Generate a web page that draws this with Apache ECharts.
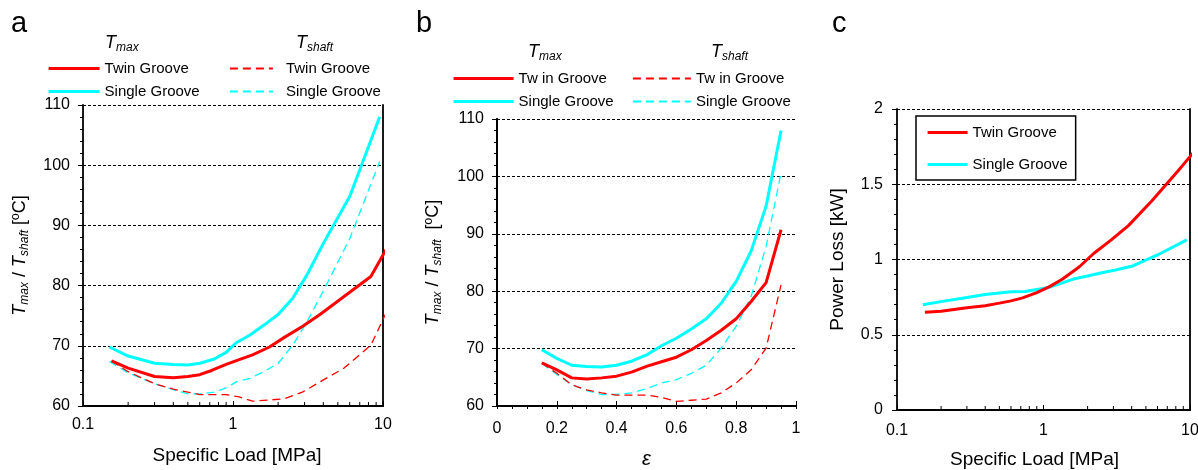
<!DOCTYPE html>
<html><head><meta charset="utf-8">
<script src="https://cdn.jsdelivr.net/npm/echarts@6/dist/echarts.min.js"></script>
<style>html,body{margin:0;padding:0;background:#fff}#c{width:1198px;height:470px}</style>
</head><body><div id="c"></div>
<script>
// ---- data ----
const epsilon = [0.15,0.2,0.25,0.3,0.35,0.4,0.45,0.5,0.55,0.6,0.65,0.7,0.75,0.8,0.85,0.9,0.95];
const twinLoad = [0.155,0.2,0.3,0.4,0.5,0.6,0.72,0.9,1.1,1.35,1.75,2.2,2.9,3.8,5.5,8.3,13.4];
const singleLoad = [0.15,0.2,0.3,0.4,0.5,0.6,0.75,0.9,1.05,1.3,1.6,2,2.5,3.1,4,6,9.5];
const twinTmax = [67.5,66.3,64.9,64.7,64.9,65.2,65.9,66.9,67.7,68.5,69.8,71.4,73.2,75.2,78.2,81.5,90.7];
const singleTmax = [69.8,68.3,67.1,66.9,66.8,67.1,67.8,68.9,70.5,71.8,73.4,75.2,77.9,81.7,87,94.8,108];
const twinTshaft = [67.5,65.7,63.7,62.8,62.3,61.9,61.9,61.9,61.5,60.8,61.0,61.2,62.3,64.0,66.3,70.1,81.1];
const singleTshaft = [67.4,65.5,63.7,62.7,62.0,62.0,62.3,63.0,64.0,64.6,65.7,67.1,70.1,73.9,79.1,87.8,100.6];
const twinPower = [0.65,0.656,0.68,0.693,0.71,0.725,0.745,0.78,0.82,0.87,0.95,1.04,1.13,1.225,1.39,1.59,1.83];
const singlePower = [0.70,0.72,0.748,0.768,0.778,0.786,0.787,0.80,0.81,0.84,0.87,0.89,0.912,0.93,0.955,1.03,1.13];
const logMinorTicks = [0.2,0.3,0.4,0.5,0.6,0.7,0.8,0.9,2,3,4,5,6,7,8,9];
const legendLabels = {
  a_tw_max:'Twin Groove', a_sg_max:'Single Groove', a_tw_sh:'Twin Groove', a_sg_sh:'Single Groove',
  b_tw_max:'Tw in Groove', b_sg_max:'Single Groove', b_tw_sh:'Tw in Groove', b_sg_sh:'Single Groove',
  c_tw:'Twin Groove', c_sg:'Single Groove'
};

const RED = '#ff0000', CYAN = '#00ffff';
const FONT = 'Liberation Sans, Arial, sans-serif';
const chart = echarts.init(document.getElementById('c'), null, {renderer:'canvas'});

function zip(xs, ys){ return xs.map((x,i)=>[x, ys[i]]); }
function line(name, xs, ys, color, dashed, gi){
  return {
    name, type:'line', xAxisIndex:gi, yAxisIndex:gi, data: zip(xs, ys),
    symbol:'none', showSymbol:false, smooth:false, clip:true, animation:false,
    lineStyle:{color, width: dashed?1.3:3, type: dashed?[8,5]:'solid'},
    itemStyle:{color}
  };
}
function minorTickSeries(gi, ymin){
  return {
    type:'custom', xAxisIndex:gi, yAxisIndex:gi, silent:true, animation:false, clip:false,
    data: logMinorTicks.map(v=>[v, ymin]),
    renderItem(params, api){
      const p = api.coord([api.value(0), api.value(1)]);
      return {type:'line', shape:{x1:p[0], y1:p[1], x2:p[0], y2:p[1]-4},
        style:{stroke:'#000', lineWidth:1}};
    }
  };
}
const richY = {
  t:{fontFamily:FONT, fontStyle:'italic', fontSize:18, color:'#000', verticalAlign:'top'},
  s:{fontFamily:FONT, fontStyle:'italic', fontSize:12, color:'#000', verticalAlign:'bottom', lineHeight:20},
  n:{fontFamily:FONT, fontSize:18, color:'#000', verticalAlign:'top'}
};
const gridLine = {show:true, lineStyle:{color:'#000', type:[3,2], width:1}};
const axisLine = {show:true, lineStyle:{color:'#000', width:1.8}};
const lab = {color:'#000', fontSize:16, fontFamily:FONT};

function yAxisMain(gi, min, max, interval, name, gap, margin){
  return {type:'value', gridIndex:gi, min, max, interval, position:'left',
    axisLine, axisTick:{show:true, inside:false, length:5, lineStyle:{color:'#000'}},
    minorTick:{show:true, splitNumber:5, length:3, lineStyle:{color:'#000'}},
    splitLine:gridLine, axisLabel:Object.assign({margin}, lab),
    name, nameLocation:'middle', nameRotate:90, nameGap:gap,
    nameTextStyle:{rich:richY, fontFamily:FONT, fontSize:19, color:'#000'}};
}
function yAxisRight(gi, min, max){
  return {type:'value', gridIndex:gi, min, max, position:'right', axisLine,
    axisTick:{show:false}, axisLabel:{show:false}, splitLine:{show:false}};
}
function xLog(gi, name, gap, margin, pad){
  return {type:'log', logBase:10, gridIndex:gi, min:0.1, max:10,
    axisLine, axisTick:{show:true, inside:true, length:5, lineStyle:{color:'#000'}},
    splitLine:{show:false}, axisLabel:Object.assign({margin, formatter:v=>String(v)}, lab),
    name, nameLocation:'middle', nameGap:gap,
    nameTextStyle:{fontFamily:FONT, fontSize:19, color:'#000', padding:pad}};
}

function legend(names, left, top, w, opts){
  return Object.assign({
    data:names, orient:'vertical', left, top, itemWidth:w, itemHeight:14, itemGap:8,
    selectedMode:false, padding:0,
    itemStyle:{opacity:0},
    lineStyle:{width:3.2},
    formatter: n => legendLabels[n],
    textStyle:{fontFamily:FONT, fontSize:15, color:'#000'}
  }, opts||{});
}
function header(x, y, sub){
  return {type:'text', left:x, top:y, silent:true,
    style:{text:'{t|T}{s|'+sub+'}', rich:{
      t:{fontFamily:FONT, fontStyle:'italic', fontSize:18, color:'#000', verticalAlign:'top'},
      s:{fontFamily:FONT, fontStyle:'italic', fontSize:12, color:'#000', verticalAlign:'bottom', lineHeight:20}
    }}};
}
function letter(x, t){
  return {type:'text', left:x, top:9, silent:true,
    style:{text:t, fontFamily:FONT, fontSize:29, fill:'#000'}};
}

const option = {
  backgroundColor:'#fff',
  animation:false,
  grid:[
    {left:83, top:105, width:300, height:301, outerBoundsMode:'none', containLabel:false},
    {left:497, top:119, width:299, height:287, outerBoundsMode:'none', containLabel:false},
    {left:897, top:109, width:293, height:301, outerBoundsMode:'none', containLabel:false}
  ],
  xAxis:[
    xLog(0, 'Specific Load [MPa]', 40, 11, [0,0,0,8]),
    {type:'value', gridIndex:1, min:0, max:1, interval:0.2,
      axisLine, axisTick:{show:true, inside:true, length:5, lineStyle:{color:'#000'}},
      splitLine:{show:false}, axisLabel:Object.assign({margin:15, formatter:v=>String(+v.toFixed(1))}, lab),
      name:'ε', nameLocation:'middle', nameGap:43,
      nameTextStyle:{fontFamily:FONT, fontSize:20, fontStyle:'italic', color:'#000'}},
    xLog(2, 'Specific Load [MPa]', 40, 13, [0,18,0,0]),
    {type:'value', gridIndex:1, min:0, max:1, interval:0.05, position:'bottom',
      axisLine:{show:false}, axisTick:{show:true, inside:false, length:3, lineStyle:{color:'#000'}},
      axisLabel:{show:false}, splitLine:{show:false}}
  ],
  yAxis:[
    yAxisMain(0, 60, 110, 10, '{t|T}{s|max}{n| / }{t|T}{s|shaft}{n| [ºC]}', 52, 13),
    yAxisMain(1, 60, 110, 10, '{t|T}{s|max}{n| / }{t|T}{s|shaft}{n|  [ºC]}', 53, 13),
    yAxisMain(2, 0, 2, 0.5, 'Power Loss [kW]', 50, 14),
    yAxisRight(0, 60, 110),
    yAxisRight(1, 60, 110),
    yAxisRight(2, 0, 2)
  ],
  legend:[
    legend(['a_tw_max','a_sg_max'], 47, 61, 51),
    legend(['a_tw_sh','a_sg_sh'], 229, 61, 43, {lineStyle:{width:1.8}, textStyle:{fontFamily:FONT, fontSize:15, color:'#000', padding:[0,0,0,8]}}),
    legend(['b_tw_max','b_sg_max'], 452, 71, 60),
    legend(['b_tw_sh','b_sg_sh'], 632, 71, 58, {lineStyle:{width:1.8}}),
    legend(['c_tw','c_sg'], 916, 116, 40, {padding:[9,8,8,10], itemGap:17, borderColor:'#000', borderWidth:1.5})
  ],
  graphic:[
    letter(11,'a'), letter(416,'b'), letter(832,'c'),
    header(105, 34, 'max'), header(296, 34, 'shaft'),
    header(528, 43, 'max'), header(711, 43, 'shaft')
  ],
  series:[
    line('a_sg_sh', singleLoad, singleTshaft, CYAN, true, 0),
    line('a_tw_sh', twinLoad, twinTshaft, RED, true, 0),
    line('a_sg_max', singleLoad, singleTmax, CYAN, false, 0),
    line('a_tw_max', twinLoad, twinTmax, RED, false, 0),
    line('b_sg_sh', epsilon, singleTshaft, CYAN, true, 1),
    line('b_tw_sh', epsilon, twinTshaft, RED, true, 1),
    line('b_sg_max', epsilon, singleTmax, CYAN, false, 1),
    line('b_tw_max', epsilon, twinTmax, RED, false, 1),
    line('c_sg', singleLoad, singlePower, CYAN, false, 2),
    line('c_tw', twinLoad, twinPower, RED, false, 2),
    minorTickSeries(0, 60),
    minorTickSeries(2, 0)
  ]
};
chart.setOption(option);
</script>
</body></html>
